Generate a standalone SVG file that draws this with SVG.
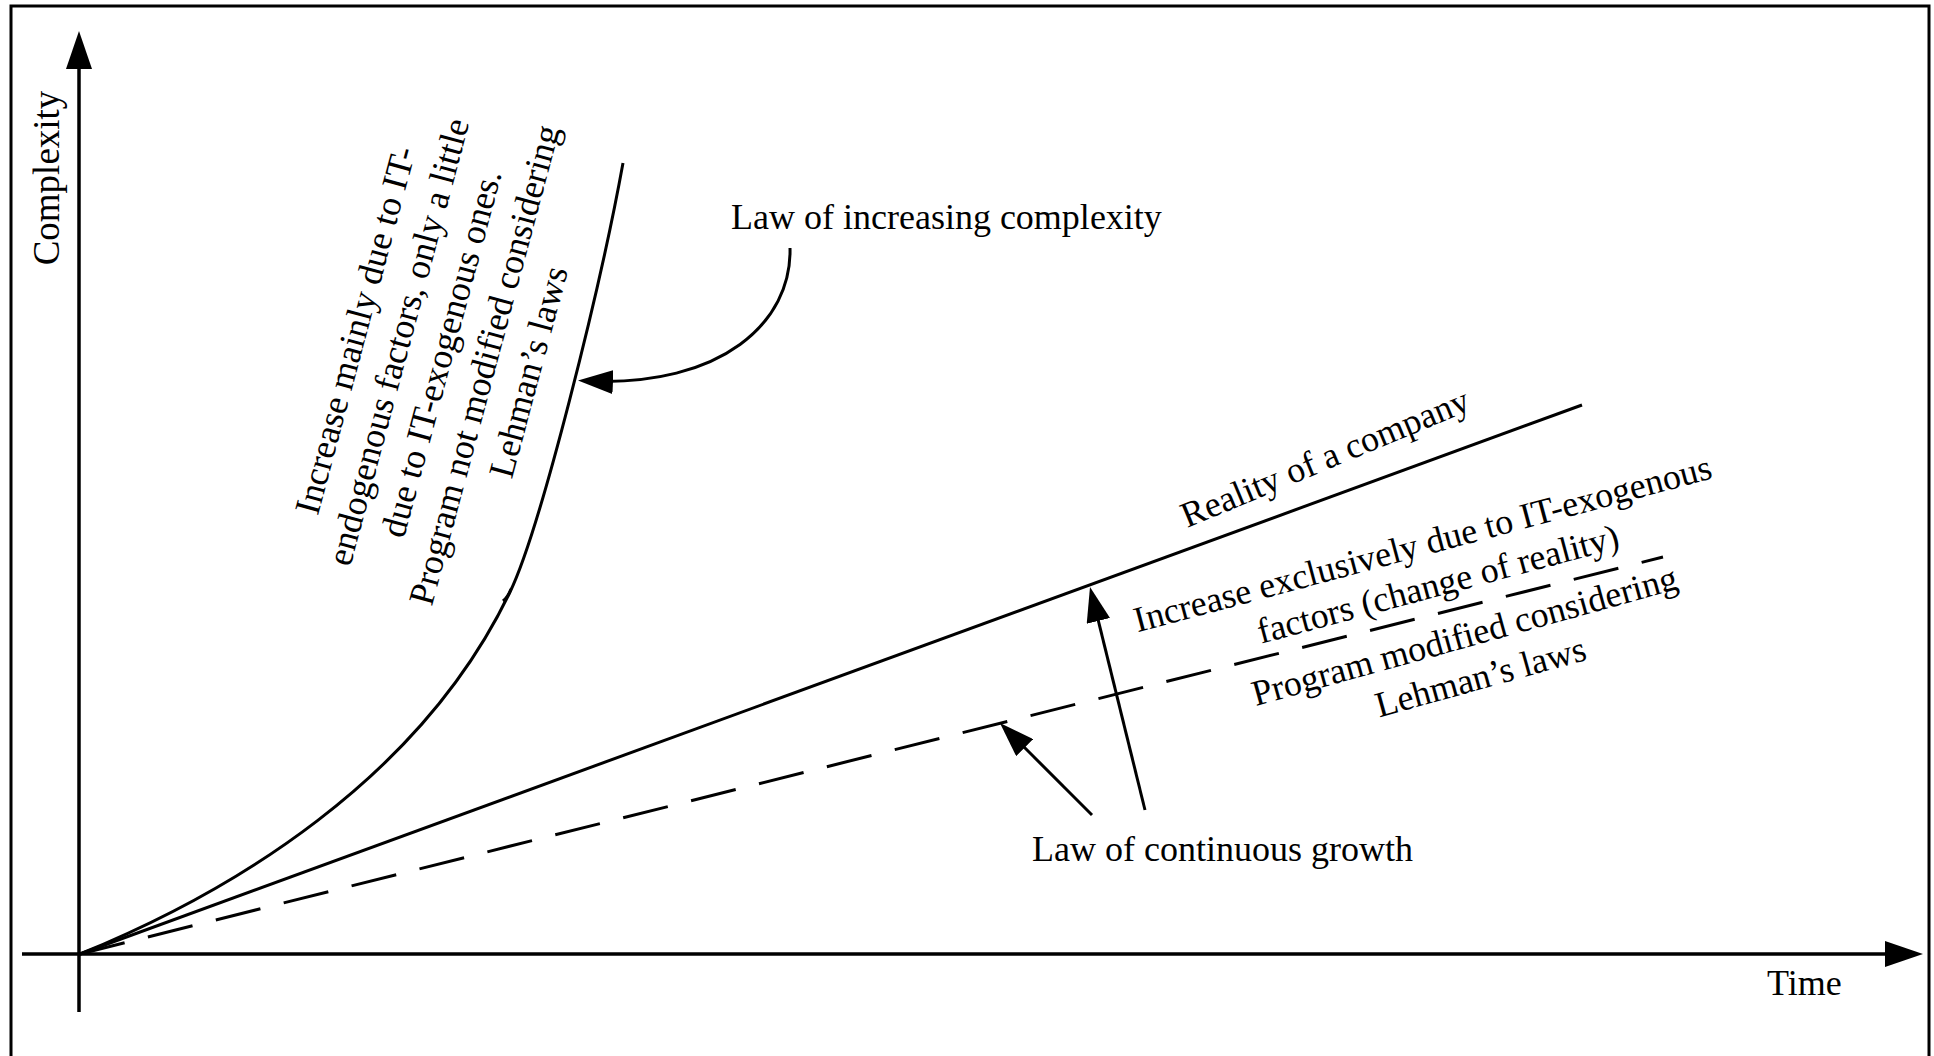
<svg xmlns="http://www.w3.org/2000/svg" width="1934" height="1056" viewBox="0 0 1934 1056">
  <style>
    .lbl { font-family: "Liberation Serif", "Times New Roman", serif; font-size: 36px; fill: #000; }
    .mid { text-anchor: middle; }
    .axis { stroke: #000; stroke-width: 3.5; fill: none; }
    .curve { stroke: #000; stroke-width: 3; fill: none; }
    .dash { stroke-dasharray: 46 24; }
  </style>
  <defs>
    <marker id="head" viewBox="0 0 38 26" refX="28" refY="13" markerWidth="38" markerHeight="26" markerUnits="userSpaceOnUse" orient="auto">
      <path d="M0,0 L38,13 L0,26 Z" fill="#000"/>
    </marker>
    <marker id="head-sm" viewBox="0 0 35 24" refX="25" refY="12" markerWidth="35" markerHeight="24" markerUnits="userSpaceOnUse" orient="auto">
      <path d="M0,0 L35,12 L0,24 Z" fill="#000"/>
    </marker>
  </defs>

  <rect width="1934" height="1056" fill="#fff"/>
  <!-- outer frame, open at the bottom edge -->
  <rect id="frame" x="11" y="6" width="1918" height="1120" fill="none" stroke="#000" stroke-width="3"/>

  <!-- axes -->
  <g id="y-axis">
    <line class="axis" x1="79" y1="1012" x2="79" y2="41" marker-end="url(#head)"/>
    <text class="lbl mid" transform="translate(59,178) rotate(-90)" style="font-size:37px">Complexity</text>
  </g>
  <g id="x-axis">
    <line class="axis" x1="22" y1="954" x2="1913" y2="954" marker-end="url(#head)"/>
    <text class="lbl" x="1767" y="995">Time</text>
  </g>

  <!-- growth curves -->
  <g id="endogenous-curve">
    <path class="curve" d="M80,954 C230,893 420,780 510,592 C540,530 600,290 623,163"/>
    <path class="curve" d="M511,589 Q508,597 503,601"/>
    <text class="lbl mid" transform="translate(368,329) rotate(-75)">
      <tspan x="0" dy="0">Increase mainly due to IT-</tspan>
      <tspan x="0" dy="44.5">endogenous factors, only a little</tspan>
      <tspan x="0" dy="44.5">due to IT-exogenous ones.</tspan>
      <tspan x="0" dy="44.5">Program not modified considering</tspan>
      <tspan x="0" dy="44.5">Lehman’s laws</tspan>
    </text>
  </g>

  <g id="reality-line">
    <path class="curve" d="M80,954 L1582,405"/>
    <text class="lbl" transform="translate(1187,528) rotate(-22.6)">Reality of a company</text>
  </g>

  <g id="exogenous-increase">
    <text class="lbl mid" transform="translate(1430,554) rotate(-15)">
      <tspan x="0" dy="0">Increase exclusively due to IT-exogenous</tspan>
      <tspan x="0" dy="43">factors (change of reality)</tspan>
    </text>
  </g>

  <g id="program-line">
    <path class="curve dash" d="M80,954 L1663,557"/>
    <text class="lbl mid" transform="translate(1472,646) rotate(-15.5)">
      <tspan x="0" dy="0">Program modified considering</tspan>
      <tspan x="0" dy="44">Lehman’s laws</tspan>
    </text>
  </g>

  <g id="law-increasing-complexity">
    <text class="lbl" x="731" y="229">Law of increasing complexity</text>
  </g>

  <g id="law-continuous-growth">
    <text class="lbl" x="1032" y="861">Law of continuous growth</text>
  </g>

  <!-- pointers from the law labels to the curves -->
  <g id="connectors">
    <path class="curve" d="M790,248 C792,322 722,387 588,381" marker-end="url(#head-sm)"/>
    <line class="curve" x1="1092" y1="815" x2="1007" y2="730" marker-end="url(#head-sm)"/>
    <line class="curve" x1="1145" y1="810" x2="1092.4" y2="596.7" marker-end="url(#head-sm)"/>
  </g>
</svg>
